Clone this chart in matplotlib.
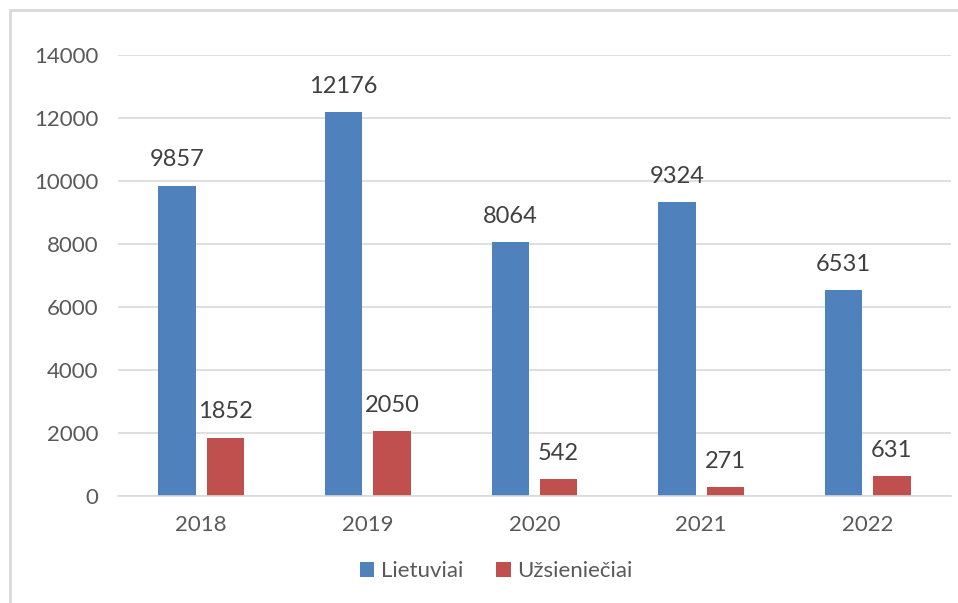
import matplotlib.pyplot as plt
from matplotlib.patches import Rectangle
import numpy as np

plt.rcParams['font.family'] = ['Lato', 'DejaVu Sans']

years = ['2018', '2019', '2020', '2021', '2022']
lietuviai = [9857, 12176, 8064, 9324, 6531]
uzsienieciai = [1852, 2050, 542, 271, 631]

blue = '#4F81BD'
red = '#C0504D'
txt = '#595959'

fig = plt.figure(figsize=(9.58, 6.03), dpi=100)
# chart frame (left and top edges visible)
fig.patches.append(Rectangle((10 / 958, -0.1), 1.2, (603 - 10) / 603 + 0.1,
                             transform=fig.transFigure, fill=False,
                             edgecolor='#D9D9D9', linewidth=2))

ax = fig.add_axes([118 / 958, (603 - 496) / 603, (951 - 118) / 958, (496 - 55) / 603])
x = np.arange(len(years))
w = 0.225
off = 0.145
b1 = ax.bar(x - off, lietuviai, w, color=blue, label='Lietuviai')
b2 = ax.bar(x + off, uzsienieciai, w, color=red, label='Užsieniečiai')

for bars in (b1, b2):
    for r in bars:
        ax.annotate(str(int(r.get_height())), (r.get_x() + r.get_width() / 2, r.get_height()),
                    xytext=(0, 11), textcoords='offset points', ha='center', va='bottom',
                    fontsize=17, color='#404040')

ax.set_xlim(-0.5, len(years) - 0.5)
ax.set_ylim(0, 14000)
ax.set_yticks(range(0, 14001, 2000))
ax.set_xticks(x)
ax.set_xticklabels(years)
ax.grid(axis='y', color='#D9D9D9', linewidth=1.2)
ax.set_axisbelow(True)
for s in ['top', 'right', 'left']:
    ax.spines[s].set_visible(False)
ax.spines['bottom'].set_color('#D9D9D9')
ax.spines['bottom'].set_linewidth(1.2)
ax.tick_params(length=0, labelsize=16, colors=txt)
ax.tick_params(axis='y', pad=14)
ax.tick_params(axis='x', pad=14)

ax.legend(loc='center', bbox_to_anchor=(0.454, -0.17), ncol=2, frameon=False,
          fontsize=16, labelcolor=txt, handlelength=0.65, handleheight=0.65,
          handletextpad=0.3, columnspacing=1.5)

plt.savefig('out.png', dpi=100, facecolor='white')
